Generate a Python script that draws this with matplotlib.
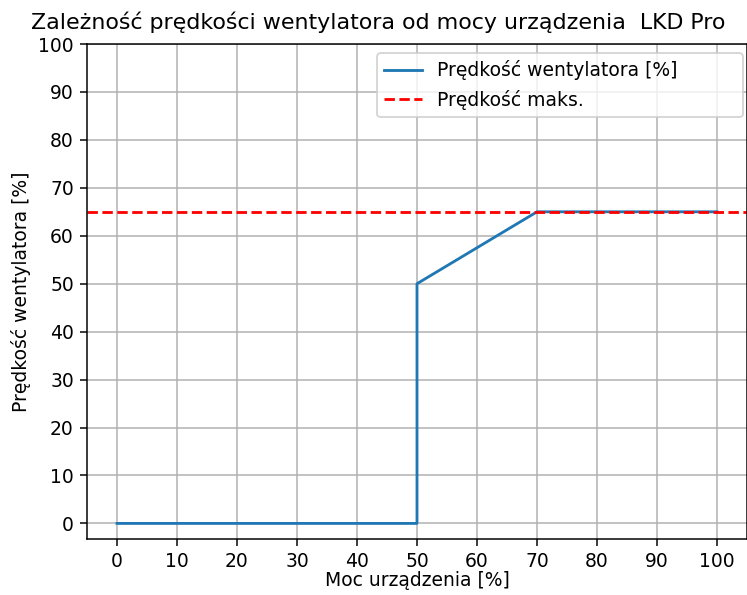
import matplotlib
matplotlib.use("Agg")
import matplotlib.pyplot as plt

moc = [0, 50, 50, 70, 100]
predkosc = [0, 0, 50, 65, 65]
predkosc_maks = 65
x_ticks = list(range(0, 101, 10))
y_ticks = list(range(0, 101, 10))

DPI = 135
fig = plt.figure(figsize=(748/DPI, 595/DPI), dpi=DPI)
ax = fig.add_axes([87/748, 56/595, (747-87)/748, (539-44)/595])
ax.plot(moc, predkosc, color="#1f77b4", label="Prędkość wentylatora [%]")
ax.axhline(predkosc_maks, color="red", linestyle="--", label="Prędkość maks.")
ax.set_xlim(-5, 105)
ax.set_ylim(-3.25, 100)
ax.set_xticks(x_ticks)
ax.set_yticks(y_ticks)
ax.grid(True)
ax.set_xlabel("Moc urządzenia [%]", labelpad=0)
ax.set_ylabel("Prędkość wentylatora [%]")
fig.text(378/748, 1 - 22/595, "Zależność prędkości wentylatora od mocy urządzenia  LKD Pro",
         ha="center", va="center", fontsize=11.8)
ax.legend(loc="upper left", mode="expand", borderaxespad=0,
          bbox_to_anchor=((377-87)/660, 0.0, (743-377)/660, (539-53)/495))
fig.savefig("out.png", dpi=DPI)
